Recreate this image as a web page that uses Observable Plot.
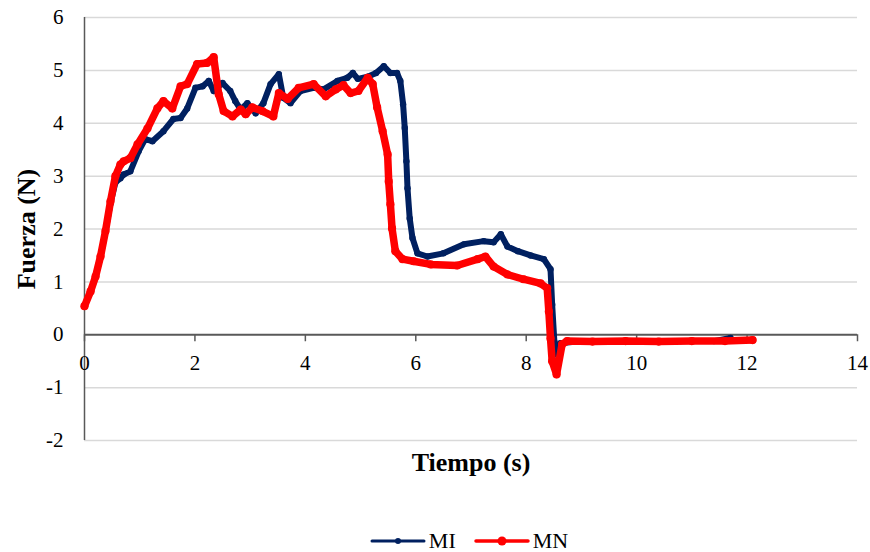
<!DOCTYPE html>
<html>
<head>
<meta charset="utf-8">
<script src="https://cdn.jsdelivr.net/npm/d3@7"></script>
<script src="https://cdn.jsdelivr.net/npm/@observablehq/plot@0.6"></script>
<style>
  html, body { margin: 0; padding: 0; background: #fff; }
  body { width: 870px; height: 552px; position: relative; overflow: hidden;
         font-family: "Liberation Serif", "Times New Roman", serif; }
  #legend { position: absolute; top: 527px; left: 0; width: 870px; height: 28px;
            display: flex; justify-content: center; align-items: center;
            font-size: 22px; color: #000; padding-left: 68px; box-sizing: border-box; }
  #legend .item { display: flex; align-items: center; margin: 0 9px; }
  #legend svg { margin-right: 3px; }
</style>
</head>
<body>
<div id="chart"></div>
<div id="legend"></div>
<script>
// Time (s) and force (N) values
const miT = [0, 0.11, 0.2, 0.29, 0.38, 0.47, 0.56, 0.65, 0.71, 0.83, 0.98, 1.1, 1.23, 1.43, 1.61, 1.74, 1.86, 2.01, 2.14, 2.25, 2.34, 2.5, 2.64, 2.73, 2.83, 2.95, 3.1, 3.24, 3.37, 3.52, 3.6, 3.73, 3.91, 4.15, 4.33, 4.58, 4.76, 4.86, 4.95, 5.13, 5.28, 5.42, 5.54, 5.66, 5.72, 5.77, 5.8, 5.83, 5.85, 5.89, 5.94, 6.03, 6.21, 6.5, 6.87, 7.23, 7.41, 7.54, 7.66, 7.85, 8.08, 8.32, 8.44, 8.47, 8.51, 8.53, 8.62, 9.0, 9.6, 10.2, 10.8, 11.4, 11.7];
const miF = [0.54, 0.82, 1.1, 1.48, 1.96, 2.48, 2.88, 2.96, 3.03, 3.09, 3.47, 3.7, 3.66, 3.85, 4.08, 4.1, 4.28, 4.67, 4.7, 4.8, 4.61, 4.76, 4.61, 4.42, 4.26, 4.38, 4.19, 4.38, 4.74, 4.93, 4.48, 4.38, 4.61, 4.67, 4.64, 4.8, 4.86, 4.95, 4.84, 4.88, 4.95, 5.08, 4.95, 4.95, 4.8, 4.36, 3.91, 3.28, 2.77, 2.2, 1.83, 1.54, 1.48, 1.54, 1.71, 1.77, 1.75, 1.9, 1.67, 1.58, 1.5, 1.43, 1.24, 0.57, -0.13, -0.37, -0.16, -0.12, -0.12, -0.13, -0.12, -0.12, -0.06];

const mnT = [0, 0.11, 0.2, 0.29, 0.38, 0.47, 0.56, 0.65, 0.71, 0.83, 0.96, 1.14, 1.32, 1.43, 1.59, 1.74, 1.86, 2.04, 2.22, 2.34, 2.43, 2.52, 2.68, 2.83, 2.92, 3.04, 3.22, 3.42, 3.52, 3.68, 3.88, 4.15, 4.37, 4.55, 4.69, 4.82, 4.96, 5.13, 5.22, 5.3, 5.4, 5.49, 5.51, 5.54, 5.57, 5.63, 5.76, 5.96, 6.27, 6.75, 7.12, 7.26, 7.41, 7.66, 7.95, 8.26, 8.38, 8.41, 8.44, 8.47, 8.55, 8.65, 8.74, 9.2, 9.8, 10.4, 11.0, 11.6, 12.1];
const mnF = [0.54, 0.82, 1.1, 1.48, 1.96, 2.52, 3.0, 3.22, 3.28, 3.34, 3.6, 3.9, 4.28, 4.42, 4.28, 4.7, 4.74, 5.12, 5.14, 5.25, 4.55, 4.23, 4.13, 4.26, 4.17, 4.3, 4.23, 4.13, 4.57, 4.46, 4.67, 4.74, 4.51, 4.64, 4.72, 4.57, 4.61, 4.86, 4.74, 4.3, 3.85, 3.41, 2.9, 2.47, 2.01, 1.58, 1.43, 1.39, 1.33, 1.31, 1.43, 1.48, 1.29, 1.14, 1.05, 0.97, 0.88, 0.44, -0.07, -0.5, -0.75, -0.18, -0.12, -0.13, -0.12, -0.13, -0.12, -0.12, -0.1];

const xTicks = [0, 2, 4, 6, 8, 10, 12, 14];
const yTicks = [-2, -1, 0, 1, 2, 3, 4, 5, 6];
const seriesNames = ["MI", "MN"];
const seriesColors = ["#002060", "#ff0000"];

const mi = miT.map((t, i) => ({t, f: miF[i]}));
const mn = mnT.map((t, i) => ({t, f: mnF[i]}));

const axisColor = "#595959";
const chart = Plot.plot({
  width: 870,
  height: 480,
  marginLeft: 84,
  marginRight: 13,
  marginTop: 17,
  marginBottom: 40,
  style: {fontFamily: "'Liberation Serif', 'Times New Roman', serif", fontSize: "21px", color: "#000", background: "#fff"},
  x: {domain: [0, 14], axis: null},
  y: {domain: [-2, 6], axis: null},
  marks: [
    Plot.ruleY(yTicks.filter(d => d !== 0), {y: d => d, stroke: "#d9d9d9", strokeWidth: 1.5}),
    Plot.ruleX([0], {x: d => d, stroke: axisColor, strokeWidth: 1.5}),
    Plot.ruleY([0], {y: d => d, stroke: axisColor, strokeWidth: 1.8}),
    Plot.ruleX(xTicks, {x: d => d, y1: 0, y2: 0, insetTop: 7, stroke: axisColor, strokeWidth: 1.5}),
    Plot.text(xTicks, {x: d => d, y: 0, dy: 29, text: d => String(d), fontSize: 21}),
    Plot.text(yTicks, {x: 0, y: d => d, dx: -21, textAnchor: "end", text: d => String(d), fontSize: 21}),
    Plot.text(["Tiempo (s)"], {frameAnchor: "bottom", dy: 22, textAnchor: "middle", lineAnchor: "middle", text: d => d, fontSize: 26, fontWeight: "bold"}),
    Plot.text(["Fuerza (N)"], {frameAnchor: "left", dx: -58, rotate: -90, textAnchor: "middle", lineAnchor: "middle", text: d => d, fontSize: 26, fontWeight: "bold"}),
    Plot.line(mi, {x: "t", y: "f", stroke: seriesColors[0], strokeWidth: 6, strokeLinejoin: "round", strokeLinecap: "round"}),
    Plot.dot(mi, {x: "t", y: "f", r: 3.2, fill: seriesColors[0], stroke: "none"}),
    Plot.line(mn, {x: "t", y: "f", stroke: seriesColors[1], strokeWidth: 7.5, strokeLinejoin: "round", strokeLinecap: "round"}),
    Plot.dot(mn, {x: "t", y: "f", r: 4.1, fill: seriesColors[1], stroke: "none"})
  ]
});
document.getElementById("chart").appendChild(chart);

// Legend
const legend = document.getElementById("legend");
seriesNames.forEach((name, i) => {
  const item = document.createElement("div");
  item.className = "item";
  const r = i === 0 ? 3 : 4.5;
  const sw = i === 0 ? 3 : 3.5;
  item.innerHTML = `<svg width="56" height="12"><line x1="2" y1="6" x2="54" y2="6" stroke="${seriesColors[i]}" stroke-width="${sw}" stroke-linecap="round"/><circle cx="28" cy="6" r="${r}" fill="${seriesColors[i]}"/></svg><span>${name}</span>`;
  legend.appendChild(item);
});
</script>
</body>
</html>
